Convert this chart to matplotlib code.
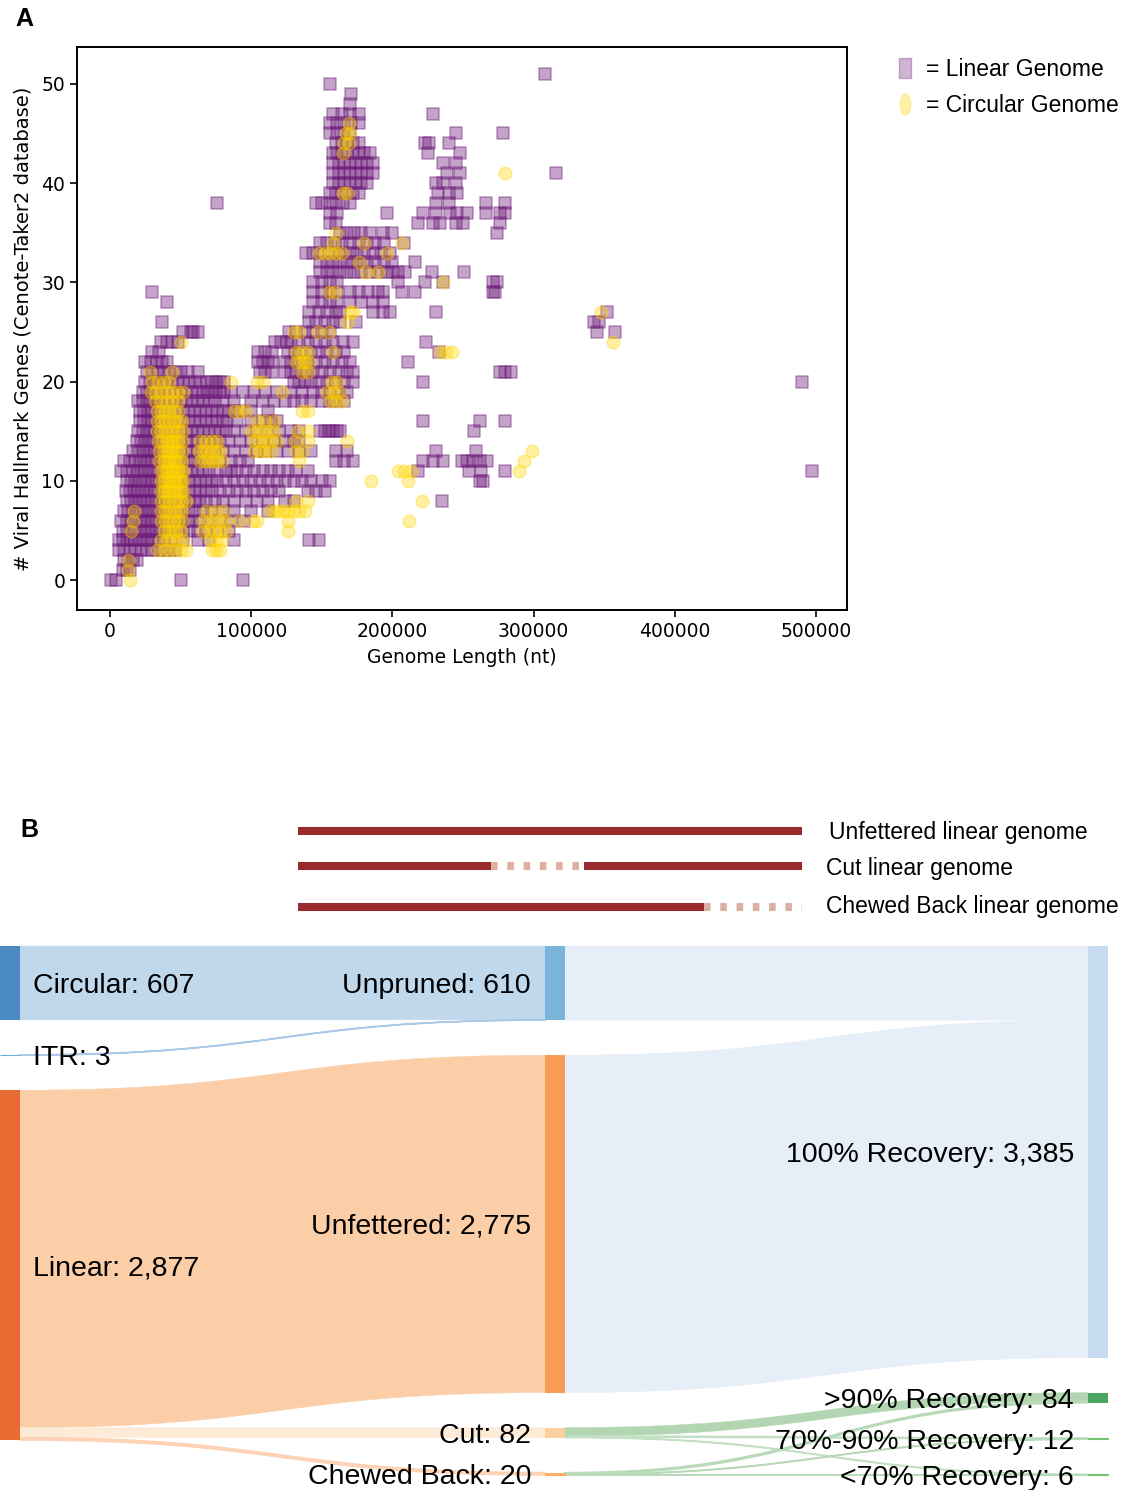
import numpy as np
import matplotlib
matplotlib.use('Agg')
import matplotlib.pyplot as plt
from matplotlib.path import Path
from matplotlib.patches import PathPatch, Rectangle
from matplotlib.lines import Line2D
from matplotlib.transforms import Affine2D

# ---------------- Panel A data (genome length in kb, hallmark gene count) ----------------
linear_rows = [
    (0, [1, 4, 50, 94]),
    (1, [9, 12, 14]),
    (2, [10, 13, 16, 19]),
    (3, [6, 10, 14, 18, 22, 26, 30, 34, 38, 42, 46]),
    (4, [6, 9, 12, 15, 18, 21, 24, 27, 30, 34, 38, 44, 52, 62, 70, 88, 141, 148]),
    (5, [9, 12, 15, 18, 21, 24, 27, 30, 33, 36, 40, 44, 48, 52, 56, 62, 68, 76, 84]),
    (6, [8, 12, 15, 18, 21, 24, 27, 30, 33, 36, 39, 43, 47, 51, 55, 58, 64, 70, 78, 86, 95]),
    (7, [10, 13, 16, 19, 22, 25, 28, 31, 34, 37, 40, 44, 48, 52, 56, 60, 66, 72, 80, 88, 100, 112]),
    (8, [12, 15, 18, 21, 24, 27, 30, 33, 36, 40, 44, 48, 52, 56, 60, 64, 68, 74, 80, 88, 96, 104, 112, 124, 130, 235]),
    (9, [11, 14, 17, 20, 23, 26, 29, 32, 36, 40, 44, 48, 52, 56, 60, 64, 68, 72, 78, 84, 90, 96, 102, 108, 114, 120, 140, 146, 152]),
    (10, [12, 15, 18, 21, 24, 27, 30, 33, 36, 40, 44, 48, 52, 56, 60, 64, 68, 72, 76, 82, 88, 94, 100, 106, 112, 118, 124, 130, 136, 142, 150, 156, 262, 264]),
    (11, [8, 12, 16, 19, 22, 25, 28, 31, 34, 38, 42, 46, 50, 54, 58, 62, 66, 70, 76, 82, 86, 90, 96, 102, 108, 114, 120, 126, 132, 140, 218, 254, 263, 280, 497]),
    (12, [10, 14, 18, 21, 24, 27, 30, 33, 36, 40, 44, 48, 52, 56, 60, 64, 68, 72, 78, 86, 92, 98, 160, 166, 172, 222, 229, 236, 249, 253, 257, 262, 267]),
    (13, [16, 20, 23, 26, 29, 32, 35, 38, 42, 46, 50, 54, 58, 62, 66, 70, 74, 80, 88, 96, 104, 110, 118, 126, 134, 142, 160, 168, 231, 259]),
    (14, [19, 22, 25, 28, 31, 34, 38, 42, 46, 50, 54, 58, 62, 66, 70, 74, 78, 84, 92, 100, 108, 116, 124, 130, 134]),
    (15, [20, 23, 26, 29, 32, 35, 38, 42, 46, 50, 54, 58, 62, 66, 70, 74, 78, 82, 88, 96, 104, 112, 120, 128, 134, 149, 152, 155, 158, 161, 163, 258]),
    (16, [21, 24, 27, 30, 33, 36, 40, 44, 48, 52, 56, 60, 64, 68, 72, 76, 80, 83, 90, 100, 108, 114, 118, 222, 262, 280]),
    (17, [21, 24, 27, 30, 33, 36, 40, 44, 48, 52, 56, 60, 64, 68, 72, 76, 80, 84, 88, 92, 100, 112]),
    (18, [20, 23, 26, 29, 32, 35, 38, 42, 46, 50, 54, 58, 62, 66, 70, 74, 80, 88, 100, 108, 116, 124, 130, 136, 142, 150, 156, 160, 166]),
    (19, [23, 26, 29, 32, 35, 38, 42, 46, 50, 54, 58, 62, 66, 69, 72, 75, 78, 81, 86, 94, 102, 110, 118, 128, 136, 144, 150, 156, 162, 168]),
    (20, [25, 28, 31, 34, 37, 40, 44, 48, 52, 56, 60, 64, 69, 72, 75, 78, 81, 130, 134, 138, 142, 148, 154, 160, 166, 172, 222, 490]),
    (21, [26, 30, 34, 38, 42, 46, 50, 55, 62, 106, 110, 115, 124, 128, 132, 136, 140, 144, 150, 156, 162, 168, 172, 276, 280, 284]),
    (22, [25, 29, 33, 37, 40, 105, 108, 112, 115, 124, 128, 132, 136, 140, 146, 152, 158, 164, 170, 211]),
    (23, [30, 35, 105, 110, 115, 126, 131, 136, 142, 148, 154, 160, 166, 233]),
    (24, [36, 40, 44, 48, 117, 121, 125, 128, 134, 140, 146, 152, 158, 165, 172, 224]),
    (25, [52, 57, 59, 62, 127, 132, 138, 144, 150, 156, 345, 358]),
    (26, [37, 141, 146, 152, 158, 163, 174, 343, 346]),
    (27, [141, 148, 154, 160, 163, 186, 193, 198, 231, 352]),
    (28, [40, 144, 150, 156, 161, 170, 178, 186, 193]),
    (29, [30, 144, 150, 156, 161, 170, 176, 183, 190, 193, 207, 216, 271, 273]),
    (30, [144, 150, 156, 161, 204, 223, 236, 271, 274]),
    (31, [149, 154, 158, 163, 168, 173, 178, 184, 190, 196, 200, 204, 209, 228, 251]),
    (32, [149, 154, 158, 163, 168, 172, 177, 182, 188, 194, 200, 216]),
    (33, [139, 144, 149, 155, 160, 165, 170, 175, 180, 186, 192, 198]),
    (34, [149, 154, 159, 164, 170, 176, 182, 188, 194, 208]),
    (35, [163, 168, 173, 178, 184, 193, 200, 274]),
    (36, [156, 160, 218, 229, 234, 245, 250, 276]),
    (37, [156, 161, 196, 222, 231, 241, 246, 253, 266, 276, 280]),
    (38, [76, 146, 150, 156, 160, 165, 170, 231, 240, 266, 280]),
    (39, [156, 160, 164, 168, 172, 176, 232, 240, 246]),
    (40, [158, 162, 166, 170, 174, 178, 182, 231, 236, 245]),
    (41, [158, 162, 166, 170, 174, 178, 182, 186, 239, 248, 316]),
    (42, [158, 162, 166, 170, 174, 178, 182, 186, 236, 245]),
    (43, [158, 161, 164, 168, 172, 176, 180, 184, 225, 248]),
    (44, [160, 164, 168, 172, 176, 223, 226, 240]),
    (45, [156, 161, 166, 170, 245, 278]),
    (46, [156, 161, 166, 171, 176]),
    (47, [158, 164, 170, 176, 229]),
    (48, [170]),
    (49, [171]),
    (50, [156]),
    (51, [308]),
]

circular_rows = [
    (0, [14]),
    (1, [13]),
    (2, [13]),
    (3, [33, 38, 42, 46, 50, 54, 72, 75, 78]),
    (4, [36, 40, 44, 48, 52, 71, 75, 79]),
    (5, [15, 38, 41, 44, 47, 50, 66, 70, 74, 78, 82, 126]),
    (6, [16, 36, 39, 42, 45, 48, 51, 66, 70, 74, 78, 82, 91, 101, 104, 126, 212]),
    (7, [17, 36, 39, 42, 45, 48, 51, 68, 74, 80, 113, 117, 120, 123, 126, 130, 134, 138]),
    (8, [36, 39, 42, 45, 48, 51, 54, 132, 140, 221]),
    (9, [36, 38, 40, 42, 44, 46, 48, 50, 52]),
    (10, [36, 38, 40, 42, 44, 46, 48, 50, 52, 185, 211]),
    (11, [36, 38, 40, 42, 44, 46, 48, 50, 52, 204, 208, 213, 290]),
    (12, [35, 38, 40, 42, 44, 46, 48, 51, 64, 67, 70, 73, 76, 79, 134, 293]),
    (13, [35, 38, 40, 42, 44, 46, 48, 51, 63, 66, 69, 72, 75, 78, 102, 106, 110, 114, 132, 136, 299]),
    (14, [34, 37, 40, 42, 44, 46, 48, 51, 64, 68, 72, 76, 102, 106, 110, 114, 118, 131, 140, 168]),
    (15, [33, 36, 39, 42, 45, 48, 51, 100, 104, 108, 112, 116, 133, 140]),
    (16, [33, 36, 39, 42, 45, 48, 51, 104, 110, 116]),
    (17, [33, 36, 39, 42, 45, 48, 88, 92, 96, 136, 140]),
    (18, [32, 36, 40, 44, 48, 156, 160, 164]),
    (19, [29, 32, 36, 40, 44, 48, 52, 122, 154, 158, 162]),
    (20, [30, 34, 38, 42, 86, 104, 108, 157, 161]),
    (21, [28, 44, 136, 140]),
    (22, [132, 135, 138, 141]),
    (23, [132, 136, 140, 158, 234, 238, 242]),
    (24, [50, 356]),
    (25, [130, 134, 147, 155]),
    (26, [168]),
    (27, [170, 172, 348]),
    (29, [155, 159]),
    (30, [236]),
    (31, [181, 190]),
    (32, [176]),
    (33, [148, 152, 156, 160, 164, 196]),
    (34, [158, 180, 207]),
    (35, [160]),
    (39, [165, 168]),
    (41, [280]),
    (43, [165]),
    (44, [166, 169]),
    (45, [167, 170]),
    (46, [169]),
]

x_ticks = [0, 100000, 200000, 300000, 400000, 500000]
y_ticks = [0, 10, 20, 30, 40, 50]
legend_labels = ['= Linear Genome', '= Circular Genome']

# ---------------- Panel B data (Sankey) ----------------
node_names = ['Circular', 'ITR', 'Linear',
              'Unpruned', 'Unfettered', 'Cut', 'Chewed Back',
              '100% Recovery', '>90% Recovery', '70%-90% Recovery', '<70% Recovery']
node_column = [0, 0, 0, 1, 1, 1, 1, 2, 2, 2, 2]
link_source = [0, 1, 2, 2, 2, 3, 4, 5, 5, 5, 6, 6, 6]
link_target = [3, 3, 4, 5, 6, 7, 7, 8, 9, 10, 8, 9, 10]
link_value = [607, 3, 2775, 82, 20, 610, 2775, 70, 8, 4, 14, 4, 2]

key_labels = ['Unfettered linear genome', 'Cut linear genome', 'Chewed Back linear genome']

# ---------------- styles ----------------
PURPLE = '#6f1d7b'
GOLD = '#ffd700'
node_colors = ['#4a89c4', '#6baed6', '#e96b34',
               '#7ab4da', '#f79b57', '#fdd0a2', '#fdae6b',
               '#c6dbef', '#4aa660', '#74c476', '#74c476']
link_colors = ['#c0d8ec', '#a9c9e6', '#fbcea7', '#feebd7', '#fdd3b3',
               '#e6eef8', '#e6eef8', '#b2d6b2', '#c4e0c4', '#c4e0c4',
               '#b8dab8', '#b8dab8', '#b8dab8']
SANS = ['Liberation Sans', 'DejaVu Sans']

W, H = 1126, 1490
fig = plt.figure(figsize=(W / 100, H / 100), dpi=100)

# ================= Panel A =================
lin_x = np.concatenate([np.array(xs, float) * 1000 for g, xs in linear_rows])
lin_y = np.concatenate([np.full(len(xs), g, float) for g, xs in linear_rows])
cir_x = np.concatenate([np.array(xs, float) * 1000 for g, xs in circular_rows])
cir_y = np.concatenate([np.full(len(xs), g, float) for g, xs in circular_rows])

ax = fig.add_axes([77 / W, 1 - 610 / H, 770 / W, 563 / H])
ax.scatter(lin_x, lin_y, marker='s', s=76, color=PURPLE, alpha=0.4, linewidths=1.2)
ax.scatter(cir_x, cir_y, marker='o', s=82, color=GOLD, alpha=0.36, linewidths=1.2)
ax.set_xlim(-23400, 522000)
ax.set_ylim(-3.0, 53.7)
ax.set_xticks(x_ticks)
ax.set_xticklabels([str(t) for t in x_ticks])
ax.set_yticks(y_ticks)
ax.tick_params(labelsize=13.5, length=5, width=1.2)
for sp in ax.spines.values():
    sp.set_linewidth(1.4)
ax.set_xlabel('Genome Length (nt)', fontsize=13.5, labelpad=5)
ax.set_ylabel('# Viral Hallmark Genes (Cenote-Taker2 database)', fontsize=14, labelpad=6)

rect_marker = Path([(-0.28, -0.5), (0.28, -0.5), (0.28, 0.5), (-0.28, 0.5), (-0.28, -0.5)],
                   [Path.MOVETO, Path.LINETO, Path.LINETO, Path.LINETO, Path.CLOSEPOLY])
ell_marker = Path.unit_circle().transformed(Affine2D().scale(0.5, 1.0))
handles = [Line2D([], [], linestyle='none', marker=rect_marker, markersize=15,
                  markerfacecolor=PURPLE, markeredgecolor=PURPLE, alpha=0.33),
           Line2D([], [], linestyle='none', marker=ell_marker, markersize=15,
                  markerfacecolor=GOLD, markeredgecolor=GOLD, alpha=0.33)]
fig.legend(handles, legend_labels, loc='upper left', bbox_to_anchor=(896 / W, 1 - 58 / H),
           frameon=False, prop={'family': SANS, 'size': 16.5}, handlelength=0.8,
           handletextpad=0.5, labelspacing=0.55, borderpad=0, borderaxespad=0)

fig.text(24 / W, 1 - 19 / H, 'A', fontsize=18, fontweight='bold', family=SANS,
         ha='center', va='center')
fig.text(29 / W, 1 - 830 / H, 'B', fontsize=18, fontweight='bold', family=SANS,
         ha='center', va='center')

# ================= Panel B key =================
kax = fig.add_axes([0, 1 - 930 / H, 1, 120 / H])
kax.set_xlim(0, W)
kax.set_ylim(930, 810)
kax.axis('off')
key_y = [831, 866, 907]
key_text_y = [833, 868, 907]
key_text_x = [829, 826, 826]
key_x0, key_x1 = 298, 802
key_segments = [[(0.0, 1.0, 'solid')],
                [(0.0, 0.382, 'solid'), (0.382, 0.568, 'dot'), (0.568, 1.0, 'solid')],
                [(0.0, 0.806, 'solid'), (0.806, 1.0, 'dot')]]
LW = 5.8
for yk, segs, lab, ty, tx in zip(key_y, key_segments, key_labels, key_text_y, key_text_x):
    for a, b, kind in segs:
        xa = key_x0 + a * (key_x1 - key_x0)
        xb = key_x0 + b * (key_x1 - key_x0)
        if kind == 'solid':
            kax.plot([xa, xb], [yk, yk], color='#9b2a2c', lw=LW, solid_capstyle='butt')
        else:
            kax.plot([xa, xb], [yk, yk], color='#dcb0a2', lw=LW,
                     dashes=(0.82, 1.2), dash_capstyle='butt')
    kax.text(tx, ty, lab, fontsize=16.5, family=SANS, ha='left', va='center')

# ================= Panel B Sankey =================
S = 0.1216          # px per unit
PAD = 35 / S        # node padding in units
col_x = [0, 545, 1088]
NODE_W = 20
TOP_PX = 946
TEXT_DY = 3 / S

sax = fig.add_axes([0, 0, 1, 1 - 940 / H])
sax.set_xlim(0, W)
sax.set_ylim((H - TOP_PX) / S, (940 - TOP_PX) / S)
sax.axis('off')

n = len(node_names)
inflow = np.zeros(n)
outflow = np.zeros(n)
for s_, t_, v_ in zip(link_source, link_target, link_value):
    outflow[s_] += v_
    inflow[t_] += v_
node_val = np.maximum(inflow, outflow)

node_y0 = np.zeros(n)
for c in range(3):
    cur = 0.0
    for i in range(n):
        if node_column[i] == c:
            node_y0[i] = cur
            cur += node_val[i] + PAD

out_off = node_y0.copy()
in_off = node_y0.copy()
order = sorted(range(len(link_value)), key=lambda k: (link_source[k], node_y0[link_target[k]]))
src_pos = {}
for k in order:
    src_pos[k] = out_off[link_source[k]]
    out_off[link_source[k]] += link_value[k]
order_t = sorted(range(len(link_value)), key=lambda k: (link_target[k], node_y0[link_source[k]]))
tgt_pos = {}
for k in order_t:
    tgt_pos[k] = in_off[link_target[k]]
    in_off[link_target[k]] += link_value[k]

for k in range(len(link_value)):
    s_, t_, v_ = link_source[k], link_target[k], link_value[k]
    x0 = col_x[node_column[s_]] + NODE_W
    x1 = col_x[node_column[t_]]
    xm = (x0 + x1) / 2
    a0, a1 = src_pos[k], src_pos[k] + v_
    b0, b1 = tgt_pos[k], tgt_pos[k] + v_
    verts = [(x0, a0), (xm, a0), (xm, b0), (x1, b0),
             (x1, b1), (xm, b1), (xm, a1), (x0, a1), (x0, a0)]
    codes = [Path.MOVETO, Path.CURVE4, Path.CURVE4, Path.CURVE4,
             Path.LINETO, Path.CURVE4, Path.CURVE4, Path.CURVE4, Path.CLOSEPOLY]
    lw = 1.1 if v_ < 30 else 0.3
    sax.add_patch(PathPatch(Path(verts, codes), facecolor=link_colors[k],
                            edgecolor=link_colors[k], lw=lw, zorder=1))

for i in range(n):
    x = col_x[node_column[i]]
    sax.add_patch(Rectangle((x, node_y0[i]), NODE_W, node_val[i], facecolor=node_colors[i],
                            edgecolor=node_colors[i], lw=0.8 if node_val[i] < 30 else 0,
                            zorder=2))
    label = f'{node_names[i]}: {int(node_val[i]):,}'
    yc = node_y0[i] + node_val[i] / 2 + TEXT_DY
    if node_column[i] == 0:
        sax.text(x + NODE_W + 13, yc, label, fontsize=20.5, family=SANS,
                 ha='left', va='center', zorder=3)
    else:
        sax.text(x - 14, yc, label, fontsize=20.5, family=SANS,
                 ha='right', va='center', zorder=3)

fig.savefig('out.png', dpi=100)
